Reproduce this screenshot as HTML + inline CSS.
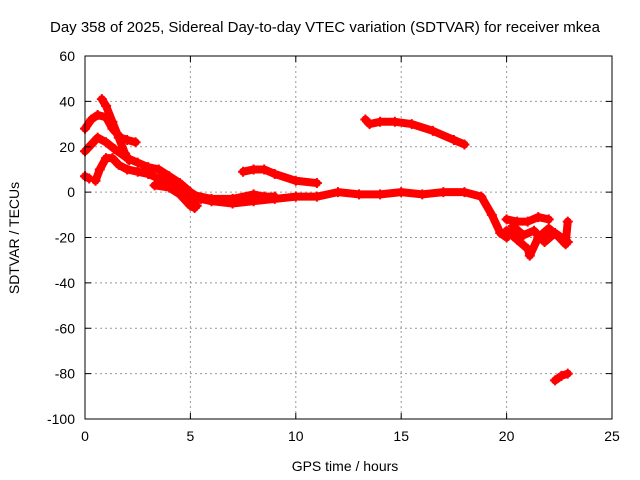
<!DOCTYPE html>
<html><head><meta charset="utf-8"><style>
body{margin:0;background:#fff}
svg{display:block;font-family:"Liberation Sans",sans-serif}
</style></head><body>
<svg id="chart" width="640" height="480">
<rect width="640" height="480" fill="#fff"/>
<text x="50" y="32" text-anchor="start" font-size="15">Day 358 of 2025, Sidereal Day-to-day VTEC variation (SDTVAR) for receiver mkea</text>
<g id="grid"></g><g id="series"></g><g id="axes"></g>
<text x="345" y="471" text-anchor="middle" font-size="14">GPS time / hours</text>
<text transform="translate(19,238) rotate(-90)" text-anchor="middle" font-size="14">SDTVAR / TECUs</text>
</svg>
<script>
const xTicks=[0,5,10,15,20,25];
const yTicks=[60,40,20,0,-20,-40,-60,-80,-100];
const s1=[[0,28],[0.3,32],[0.6,34],[1.0,33],[1.3,28],[1.7,24],[2.0,23],[2.4,22]];
const s2=[[0.8,41],[1.0,38],[1.3,31],[1.6,24],[1.9,17],[2.1,14]];
const s3=[[0,18],[0.3,21],[0.6,24],[1.0,22],[1.4,19],[2,15],[2.5,13],[3,11],[3.5,10],[4,7],[4.5,4],[5,0],[5.5,-3],[6,-4],[7,-5],[8,-4],[9,-3],[10,-2],[11,-2],[12,0],[13,-1],[14,-1],[15,0],[16,-1],[17,0],[18,0],[18.8,-2],[19.3,-10],[19.7,-18],[20,-20]];
const s4=[[0.5,5],[0.7,10],[1,15],[1.3,15],[1.6,12],[2,10],[2.5,9],[3,8],[3.5,6],[4,4],[4.5,2],[5,-2],[5.3,-6]];
const s5=[[0,7],[0.2,6]];
const s6=[[3.3,3],[4,2],[4.5,-1],[5,-6],[5.2,-7]];
const s6b=[[4.3,1],[5,-1],[6,-3],[7,-3],[8,-1],[8.5,-2],[9,-2]];
const s7=[[7.5,9],[8,10],[8.5,10],[9,8],[10,5],[11,4]];
const s8=[[13.3,32],[13.5,30],[14,31],[14.7,31],[15.5,30],[16.5,27],[17.5,23],[18,21]];
const s9=[[20,-12],[20.5,-13],[21,-13],[21.5,-11],[22,-12]];
const s10=[[20,-17],[20.5,-21],[21,-25],[21.1,-28],[21.5,-20],[22,-16],[22.5,-20],[22.8,-23],[22.9,-13]];
const s11=[[20.3,-15],[20.8,-19],[21.3,-17],[21.8,-22],[22.3,-18],[22.9,-22]];
const s12=[[22.3,-83],[22.6,-81],[22.9,-80]];
const allSeries=[s1,s2,s3,s4,s5,s6,s6b,s7,s8,s9,s10,s11,s12];
const X0=85,X1=612,Y0=419,Y1=56;
const xs=v=>X0+(v-0)/(25-0)*(X1-X0);
const ys=v=>Y0-(v+100)/160*(Y0-Y1);
const NS="http://www.w3.org/2000/svg";
const mk=(t,a,p)=>{const e=document.createElementNS(NS,t);for(const k in a)e.setAttribute(k,a[k]);p.appendChild(e);return e;};
const grid=document.getElementById('grid'),axes=document.getElementById('axes'),ser=document.getElementById('series');
xTicks.forEach(t=>{const x=xs(t);
 if(t>0&&t<25){const l=mk('line',{x1:x,x2:x,y1:Y1,y2:Y0,stroke:'#999','stroke-dasharray':'2,3'},grid);
 }
 mk('line',{x1:x,x2:x,y1:Y0,y2:Y0-6,stroke:'#000'},axes);mk('line',{x1:x,x2:x,y1:Y1,y2:Y1+6,stroke:'#000'},axes);
 const tx=mk('text',{x:x,y:Y0+22,'text-anchor':'middle','font-size':14},axes);tx.textContent=t;
 });
yTicks.forEach(t=>{const y=ys(t);
 if(t>-100&&t<60){const l=mk('line',{x1:X0,x2:X1,y1:y,y2:y,stroke:'#999','stroke-dasharray':'2,3'},grid);
 }
 mk('line',{x1:X0,x2:X0+6,y1:y,y2:y,stroke:'#000'},axes);mk('line',{x1:X1,x2:X1-6,y1:y,y2:y,stroke:'#000'},axes);
 const tx=mk('text',{x:X0-10,y:y+5,'text-anchor':'end','font-size':14},axes);tx.textContent=t;
 });
const frame=mk('rect',{x:X0,y:Y1,width:X1-X0,height:Y0-Y1,fill:'none',stroke:'#000'},axes);

allSeries.forEach(s=>{
 const p=mk('polyline',{points:s.map(d=>xs(d[0])+','+ys(d[1])).join(' '),fill:'none',stroke:'#f00','stroke-width':8,'stroke-linejoin':'round','stroke-linecap':'round'},ser);
 
 s.forEach(d=>{const x=xs(d[0]),y=ys(d[1]);
  const c=mk('path',{d:`M${x-5},${y}H${x+5}M${x},${y-5}V${y+5}`,stroke:'#f00','stroke-width':2},ser);
  });
});
</script>
</body></html>
